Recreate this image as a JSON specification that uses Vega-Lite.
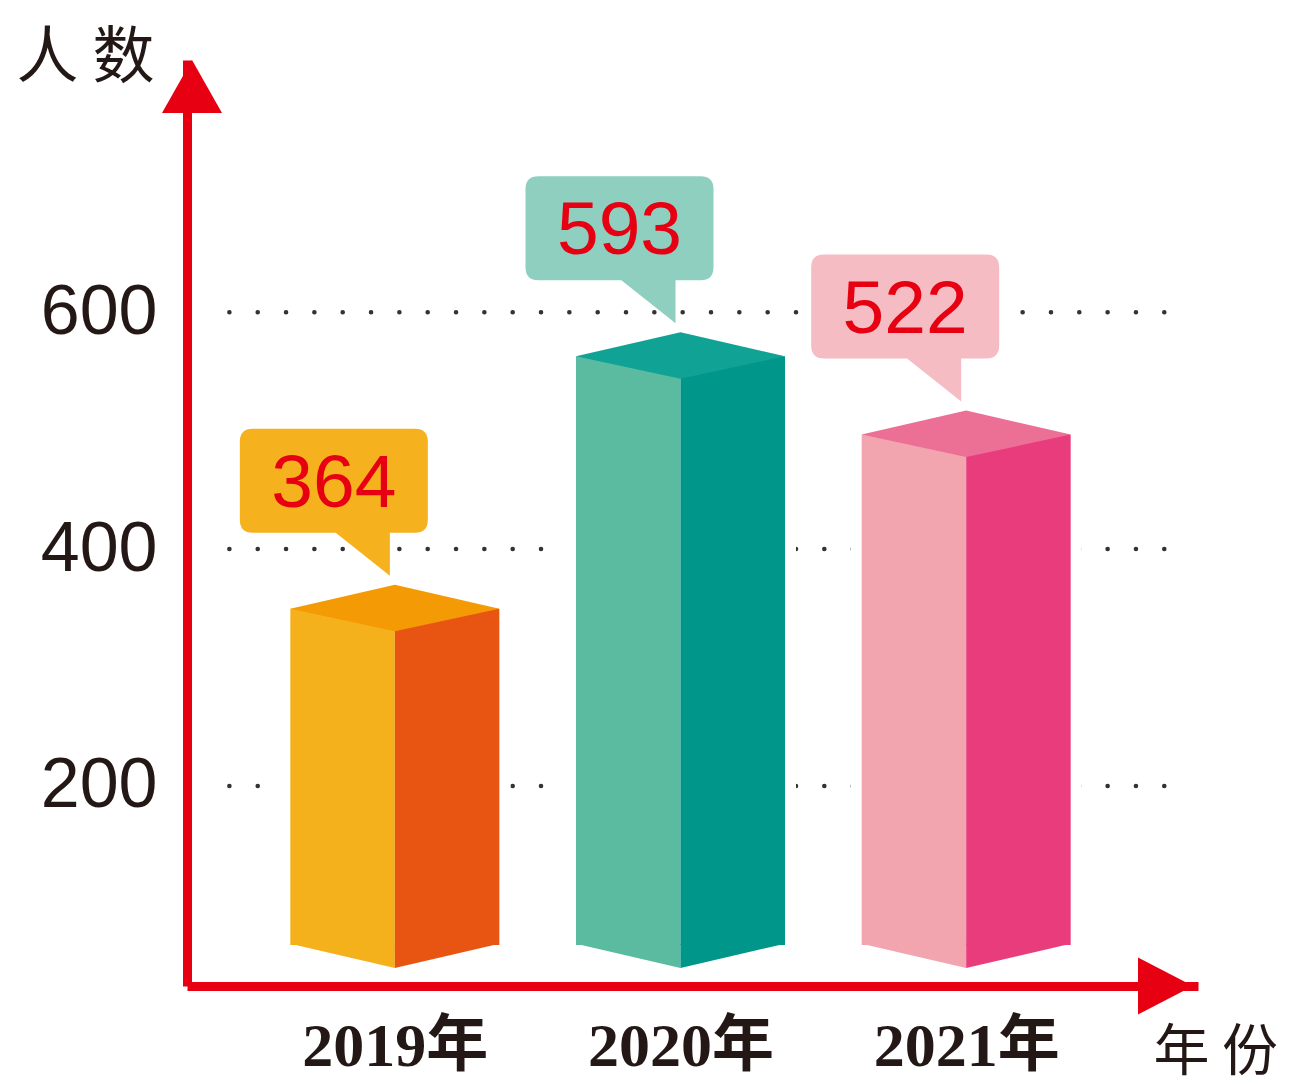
{
  "$schema": "https://vega.github.io/schema/vega-lite/v6.json",
  "width": 1011,
  "height": 926,
  "autosize": {"type": "none"},
  "padding": {"left": 187, "top": 60, "right": 95, "bottom": 98},
  "background": "white",
  "datasets": {
    "counts": [
      {"year": 2019, "value": 364},
      {"year": 2020, "value": 593},
      {"year": 2021, "value": 522}
    ],
    "ticks": [
      {"tick": 200},
      {"tick": 400},
      {"tick": 600}
    ]
  },
  "data": {"name": "counts"},
  "layer": [
    {
      "data": {"name": "ticks"},
      "mark": {"type": "rule", "color": "#333333", "strokeWidth": 4.5, "strokeCap": "round", "strokeDash": [0.1, 28.23]},
      "encoding": {
        "x": {"datum": 2018.4207, "type": "quantitative"},
        "x2": {"datum": 2021.70},
        "y": {
          "field": "tick",
          "type": "quantitative",
          "title": "人 数",
          "scale": {"domain": [31, 813], "nice": false, "zero": false},
          "axis": {"values": [200, 400, 600]}
        }
      }
    },
    {
      "mark": {"type": "bar", "color": "white", "width": 231, "yOffset": -10, "y2Offset": 24},
      "encoding": {
        "x": {"field": "year", "type": "quantitative", "title": "年 份", "scale": {"domain": [2018.29, 2021.794], "nice": false, "zero": false}, "axis": {"values": [2019, 2020, 2021], "labelExpr": "datum.value + '年'"}},
        "y": {"field": "value", "type": "quantitative", "scale": {"domain": [0, 840], "nice": false, "zero": false}, "axis": null},
        "y2": {"datum": 59}
      }
    },
    {
      "mark": {"type": "bar", "width": 104.5, "xOffset": -52.25, "yOffset": 24, "y2Offset": 24},
      "encoding": {
        "x": {"field": "year", "type": "quantitative"},
        "y": {"field": "value", "type": "quantitative", "scale": {"domain": [0, 840], "nice": false, "zero": false}, "axis": null},
        "y2": {"datum": 59},
        "color": {"field": "year", "type": "nominal", "scale": {"range": ["#F5B11B", "#5BBBA0", "#F2A5AE"]}, "legend": null}
      }
    },
    {
      "mark": {"type": "bar", "width": 104.5, "xOffset": 52.25, "yOffset": 24, "y2Offset": 24},
      "encoding": {
        "x": {"field": "year", "type": "quantitative"},
        "y": {"field": "value", "type": "quantitative", "scale": {"domain": [0, 840], "nice": false, "zero": false}, "axis": null},
        "y2": {"datum": 59},
        "color": {"field": "year", "type": "nominal", "scale": {"range": ["#E85412", "#00968A", "#E83C7D"]}, "legend": null}
      }
    },
    {
      "mark": {"type": "point", "filled": true, "opacity": 1, "strokeWidth": 0, "size": 43681, "yOffset": 24, "shape": "M-1,-0.012L0,-0.012L0,0.22Z"},
      "encoding": {
        "x": {"field": "year", "type": "quantitative"},
        "y": {"datum": 59, "type": "quantitative", "scale": {"domain": [0, 840], "nice": false, "zero": false}, "axis": null},
        "color": {"field": "year", "type": "nominal", "scale": {"range": ["#F5B11B", "#5BBBA0", "#F2A5AE"]}, "legend": null}
      }
    },
    {
      "mark": {"type": "point", "filled": true, "opacity": 1, "strokeWidth": 0, "size": 43681, "yOffset": 24, "shape": "M0,-0.012L1,-0.012L0,0.22Z"},
      "encoding": {
        "x": {"field": "year", "type": "quantitative"},
        "y": {"datum": 59, "type": "quantitative", "scale": {"domain": [0, 840], "nice": false, "zero": false}, "axis": null},
        "color": {"field": "year", "type": "nominal", "scale": {"range": ["#E85412", "#00968A", "#E83C7D"]}, "legend": null}
      }
    },
    {
      "mark": {"type": "point", "filled": true, "opacity": 1, "strokeWidth": 0, "size": 43681, "yOffset": 24, "shape": "M-1,0L0,-0.23L1,0L0,0.215Z"},
      "encoding": {
        "x": {"field": "year", "type": "quantitative"},
        "y": {"field": "value", "type": "quantitative", "scale": {"domain": [0, 840], "nice": false, "zero": false}, "axis": null},
        "color": {"field": "year", "type": "nominal", "scale": {"range": ["#F39A05", "#10A295", "#EC7095"]}, "legend": null}
      }
    },
    {
      "mark": {"type": "point", "filled": true, "opacity": 1, "strokeWidth": 0, "size": 35344, "xOffset": -61, "yOffset": -104, "shape": "M-0.862,-0.553L0.862,-0.553Q1,-0.553 1,-0.415L1,0.415Q1,0.553 0.862,0.553L0.596,0.553L0.596,1.01L0.02,0.553L-0.862,0.553Q-1,0.553 -1,0.415L-1,-0.415Q-1,-0.553 -0.862,-0.553Z"},
      "encoding": {
        "x": {"field": "year", "type": "quantitative"},
        "y": {"field": "value", "type": "quantitative", "scale": {"domain": [0, 840], "nice": false, "zero": false}, "axis": null},
        "color": {"field": "year", "type": "nominal", "scale": {"range": ["#F6B11E", "#8FCFC0", "#F5BCC3"]}, "legend": null}
      }
    },
    {
      "mark": {"type": "text", "font": "Liberation Sans", "fontSize": 75, "color": "#E60012", "align": "center", "baseline": "middle", "xOffset": -61, "yOffset": -101},
      "encoding": {
        "x": {"field": "year", "type": "quantitative"},
        "y": {"field": "value", "type": "quantitative", "scale": {"domain": [0, 840], "nice": false, "zero": false}, "axis": null},
        "text": {"field": "value", "type": "quantitative"}
      }
    },
    {
      "data": {"values": [{"end": "y"}]},
      "mark": {"type": "point", "filled": true, "opacity": 1, "strokeWidth": 0, "size": 3600, "color": "#E60012", "shape": "M0,0L1,1.77L-1,1.77Z"},
      "encoding": {
        "x": {"datum": 2018.29, "type": "quantitative"},
        "y": {"datum": 840, "type": "quantitative", "scale": {"domain": [0, 840], "nice": false, "zero": false}, "axis": null}
      }
    },
    {
      "data": {"values": [{"end": "x"}]},
      "mark": {"type": "point", "filled": true, "opacity": 1, "strokeWidth": 0, "size": 3249, "color": "#E60012", "shape": "M0,0L-1.93,-1L-1.93,1Z"},
      "encoding": {
        "x": {"datum": 2021.794, "type": "quantitative"},
        "y": {"datum": 0, "type": "quantitative", "scale": {"domain": [0, 840], "nice": false, "zero": false}, "axis": null}
      }
    }
  ],
  "resolve": {"scale": {"y": "independent", "color": "independent"}},
  "config": {
    "view": {"stroke": null},
    "axisX": {
      "domainColor": "#E60012",
      "domainWidth": 9,
      "ticks": false,
      "grid": false,
      "labelFont": "Liberation Serif, Noto Sans CJK SC",
      "labelFontWeight": "bold",
      "labelFontSize": 62,
      "labelColor": "#231815",
      "labelPadding": 60,
      "labelBaseline": "middle",
      "labelFlush": false,
      "labelOverlap": false,
      "labelLimit": 0,
      "titleFont": "Noto Sans CJK SC",
      "titleFontSize": 56,
      "titleFontWeight": "normal",
      "titleColor": "#231815",
      "titleX": 966,
      "titleY": 66,
      "titleAlign": "left",
      "titleBaseline": "middle",
      "titleLimit": 0
    },
    "axisY": {
      "domainColor": "#E60012",
      "domainWidth": 9,
      "ticks": false,
      "grid": false,
      "labelFont": "Liberation Sans",
      "labelFontSize": 70,
      "labelColor": "#231815",
      "labelPadding": 30,
      "labelBaseline": "middle",
      "labelFlush": false,
      "labelOverlap": false,
      "titleAngle": 0,
      "titleFont": "Noto Sans CJK SC",
      "titleFontSize": 62,
      "titleFontWeight": "normal",
      "titleColor": "#231815",
      "titleX": -171,
      "titleY": -2,
      "titleAlign": "left",
      "titleBaseline": "middle"
    }
  }
}
